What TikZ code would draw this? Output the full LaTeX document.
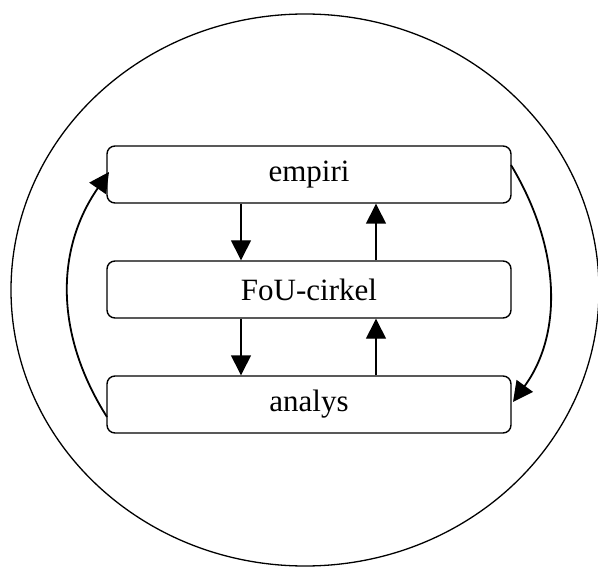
\documentclass[tikz,border=0pt]{standalone}
\usepackage{fontspec}
\setmainfont{Liberation Serif}
\usetikzlibrary{arrows.meta}
\begin{document}
\begin{tikzpicture}[x=1pt,y=-1pt,
  box/.style={draw,line width=1.4pt,rounded corners=8pt,minimum width=404pt,minimum height=57pt,inner sep=0pt,font=\fontsize{31}{31}\selectfont},
  arr/.style={line width=1.4pt,-{Triangle[length=20pt,width=20pt]}},
  curvearr/.style={line width=1.8pt,-{Triangle[length=20pt,width=20pt]}}]
\useasboundingbox (0,0) rectangle (598,567);
\clip (0,0) rectangle (598,567);
\draw[line width=1.3pt] (305,290) ellipse [x radius=294, y radius=276];
\node[box] (e) at (309,174.5) {empiri};
\node[box] (f) at (309,289.5) {FoU-cirkel};
\node[box] (a) at (309,404.5) {analys};
\coordinate (dl) at (241,0);
\coordinate (ur) at (376,0);
\draw[arr] (e.south -| dl) -- (f.north -| dl);
\draw[arr] (f.south -| dl) -- (a.north -| dl);
\draw[arr] (a.north -| ur) -- (f.south -| ur);
\draw[arr] (f.north -| ur) -- (e.south -| ur);
\coordinate (ls) at (107,417);
\coordinate (le) at (109,172);
\coordinate (rs) at (511,165);
\coordinate (re) at (513,402);
\draw[curvearr] (ls) .. controls (55,335) and (55,250) .. (le);
\draw[curvearr] (rs) .. controls (562,250) and (562,335) .. (re);
\end{tikzpicture}
\end{document}
